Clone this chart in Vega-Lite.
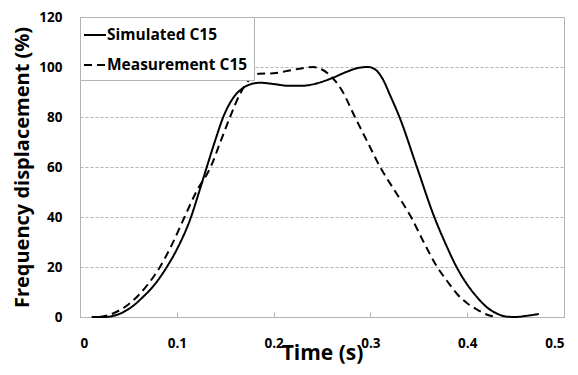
{
  "$schema": "https://vega.github.io/schema/vega-lite/v6.json",
  "width": 484,
  "height": 300,
  "autosize": {"type": "none"},
  "padding": {"left": 80, "top": 17, "right": 14, "bottom": 58},
  "background": "white",
  "config": {
    "font": "Open Sans",
    "view": {"stroke": "#b3b3b3", "strokeWidth": 1},
    "axis": {"labelFont": "Open Sans", "titleFont": "Open Sans", "labelFontWeight": "bold", "titleFontWeight": "bold", "labelColor": "black", "titleColor": "black", "domainColor": "#b3b3b3", "tickColor": "#b3b3b3"}
  },
  "data": {
    "values": [
      {"t": 0.012, "v": 0, "s": "Simulated C15"},
      {"t": 0.025, "v": 0, "s": "Simulated C15"},
      {"t": 0.035, "v": 0.5, "s": "Simulated C15"},
      {"t": 0.045, "v": 2, "s": "Simulated C15"},
      {"t": 0.055, "v": 4.5, "s": "Simulated C15"},
      {"t": 0.065, "v": 8, "s": "Simulated C15"},
      {"t": 0.075, "v": 12, "s": "Simulated C15"},
      {"t": 0.0897, "v": 20, "s": "Simulated C15"},
      {"t": 0.1, "v": 27, "s": "Simulated C15"},
      {"t": 0.1147, "v": 40, "s": "Simulated C15"},
      {"t": 0.123, "v": 50, "s": "Simulated C15"},
      {"t": 0.131, "v": 60, "s": "Simulated C15"},
      {"t": 0.14, "v": 71, "s": "Simulated C15"},
      {"t": 0.148, "v": 80, "s": "Simulated C15"},
      {"t": 0.158, "v": 87.5, "s": "Simulated C15"},
      {"t": 0.168, "v": 91.5, "s": "Simulated C15"},
      {"t": 0.178, "v": 93.3, "s": "Simulated C15"},
      {"t": 0.186, "v": 93.7, "s": "Simulated C15"},
      {"t": 0.2, "v": 93.2, "s": "Simulated C15"},
      {"t": 0.215, "v": 92.5, "s": "Simulated C15"},
      {"t": 0.23, "v": 92.5, "s": "Simulated C15"},
      {"t": 0.245, "v": 93.5, "s": "Simulated C15"},
      {"t": 0.26, "v": 95.5, "s": "Simulated C15"},
      {"t": 0.275, "v": 98, "s": "Simulated C15"},
      {"t": 0.287, "v": 99.6, "s": "Simulated C15"},
      {"t": 0.2975, "v": 100, "s": "Simulated C15"},
      {"t": 0.305, "v": 99, "s": "Simulated C15"},
      {"t": 0.313, "v": 95, "s": "Simulated C15"},
      {"t": 0.32, "v": 89, "s": "Simulated C15"},
      {"t": 0.33, "v": 80, "s": "Simulated C15"},
      {"t": 0.348, "v": 60, "s": "Simulated C15"},
      {"t": 0.366, "v": 40, "s": "Simulated C15"},
      {"t": 0.378, "v": 29, "s": "Simulated C15"},
      {"t": 0.389, "v": 20, "s": "Simulated C15"},
      {"t": 0.4, "v": 13, "s": "Simulated C15"},
      {"t": 0.41, "v": 8, "s": "Simulated C15"},
      {"t": 0.42, "v": 4, "s": "Simulated C15"},
      {"t": 0.43, "v": 1.5, "s": "Simulated C15"},
      {"t": 0.44, "v": 0.2, "s": "Simulated C15"},
      {"t": 0.45, "v": 0, "s": "Simulated C15"},
      {"t": 0.46, "v": 0.4, "s": "Simulated C15"},
      {"t": 0.474, "v": 1.2, "s": "Simulated C15"},
      {"t": 0.02, "v": 0, "s": "Measurement C15"},
      {"t": 0.03, "v": 0.8, "s": "Measurement C15"},
      {"t": 0.04, "v": 2.5, "s": "Measurement C15"},
      {"t": 0.05, "v": 5, "s": "Measurement C15"},
      {"t": 0.06, "v": 8.5, "s": "Measurement C15"},
      {"t": 0.07, "v": 13, "s": "Measurement C15"},
      {"t": 0.0826, "v": 20, "s": "Measurement C15"},
      {"t": 0.095, "v": 29, "s": "Measurement C15"},
      {"t": 0.108, "v": 40, "s": "Measurement C15"},
      {"t": 0.12, "v": 50, "s": "Measurement C15"},
      {"t": 0.135, "v": 60, "s": "Measurement C15"},
      {"t": 0.145, "v": 70, "s": "Measurement C15"},
      {"t": 0.155, "v": 80, "s": "Measurement C15"},
      {"t": 0.165, "v": 89, "s": "Measurement C15"},
      {"t": 0.175, "v": 95, "s": "Measurement C15"},
      {"t": 0.185, "v": 97.3, "s": "Measurement C15"},
      {"t": 0.2, "v": 97.5, "s": "Measurement C15"},
      {"t": 0.215, "v": 98.5, "s": "Measurement C15"},
      {"t": 0.23, "v": 99.5, "s": "Measurement C15"},
      {"t": 0.241, "v": 100, "s": "Measurement C15"},
      {"t": 0.25, "v": 99, "s": "Measurement C15"},
      {"t": 0.26, "v": 96, "s": "Measurement C15"},
      {"t": 0.27, "v": 91, "s": "Measurement C15"},
      {"t": 0.284, "v": 80, "s": "Measurement C15"},
      {"t": 0.297, "v": 70, "s": "Measurement C15"},
      {"t": 0.31, "v": 60, "s": "Measurement C15"},
      {"t": 0.326, "v": 50, "s": "Measurement C15"},
      {"t": 0.342, "v": 40, "s": "Measurement C15"},
      {"t": 0.355, "v": 30, "s": "Measurement C15"},
      {"t": 0.369, "v": 20, "s": "Measurement C15"},
      {"t": 0.38, "v": 14, "s": "Measurement C15"},
      {"t": 0.39, "v": 9, "s": "Measurement C15"},
      {"t": 0.4, "v": 5.5, "s": "Measurement C15"},
      {"t": 0.41, "v": 3, "s": "Measurement C15"},
      {"t": 0.42, "v": 1, "s": "Measurement C15"},
      {"t": 0.431, "v": 0, "s": "Measurement C15"}
    ]
  },
  "mark": {"type": "line", "interpolate": "monotone", "stroke": "black", "strokeWidth": 2},
  "encoding": {
    "x": {
      "field": "t", "type": "quantitative",
      "scale": {"domain": [0, 0.5], "nice": false},
      "axis": {
        "title": "Time (s)", "values": [0, 0.1, 0.2, 0.3, 0.4, 0.5],
        "labelExpr": "datum.value == 0 ? '0' : format(datum.value, '.1f')",
        "grid": false, "tickSize": -5, "labelPadding": 24, "labelFontSize": 13.5,
        "titleFontSize": 21, "titleBaseline": "alphabetic", "titleY": 42
      }
    },
    "y": {
      "field": "v", "type": "quantitative",
      "scale": {"domain": [0, 120], "nice": false},
      "axis": {
        "title": "Frequency displacement (%)", "values": [0, 20, 40, 60, 80, 100, 120],
        "ticks": false, "labelPadding": 18, "labelFontSize": 13.5,
        "grid": true, "gridColor": "#b3b3b3", "gridDash": [3, 2], "gridWidth": 1,
        "titleFontSize": 20, "titleBaseline": "alphabetic", "titleX": -52
      }
    },
    "detail": {"field": "s"},
    "strokeDash": {
      "field": "s", "type": "nominal",
      "scale": {"domain": ["Simulated C15", "Measurement C15"], "range": [[1, 0], [8, 5]]},
      "legend": {
        "title": null, "orient": "top-left", "offset": 0,
        "strokeColor": "#b3b3b3", "fillColor": "white", "padding": 6,
        "symbolType": "stroke", "symbolSize": 484, "symbolStrokeWidth": 2, "symbolStrokeColor": "black",
        "symbolOffset": -3,
        "labelFont": "Open Sans", "labelFontWeight": "bold", "labelFontSize": 15.5, "labelColor": "black",
        "labelOffset": 0, "rowPadding": 9, "labelLimit": 300
      }
    }
  }
}
